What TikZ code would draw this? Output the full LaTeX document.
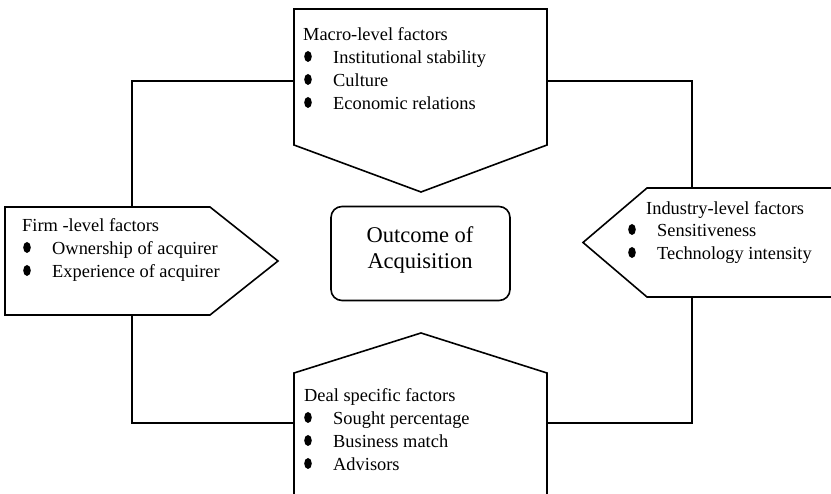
\documentclass[tikz,border=0pt]{standalone}
\usepackage{fontspec}
\setmainfont{Liberation Serif}

\tikzset{
    factorbox/.style={draw,line width=1.6pt,line join=miter,fill=white},
    link/.style={draw,line width=1.6pt},
    factortext/.style={anchor=base west,inner sep=0pt,font=\fontsize{18.4}{22}\selectfont},
    outcomebox/.style={draw,line width=1.6pt,rounded corners=11pt,minimum width=179pt,minimum height=94pt},
    outcometext/.style={align=center,inner sep=0pt,font=\fontsize{22.5}{26}\selectfont},
    dot/.style={fill=black}
}

\begin{document}
\begin{tikzpicture}[x=1pt,y=-1pt]
    \useasboundingbox (0,0) rectangle (831,494);

    % the four factor boxes
    \draw[factorbox] (294,9) -- (547,9) -- (547,145) -- (421,192) -- (294,145) -- cycle;
    \draw[factorbox] (5,207) -- (210,207) -- (278,261) -- (210,315) -- (5,315) -- cycle;
    \draw[factorbox] (583,242.5) -- (647,188) -- (840,188) -- (840,297) -- (647,297) -- cycle;
    \draw[factorbox] (421,333) -- (547,373) -- (547,500) -- (294,500) -- (294,373) -- cycle;

    \coordinate (macro west) at (294,81);
    \coordinate (macro east) at (547,81);
    \coordinate (firm north) at (132,207);
    \coordinate (firm south) at (132,315);
    \coordinate (industry north) at (692,188);
    \coordinate (industry south) at (692,297);
    \coordinate (deal west) at (294,423);
    \coordinate (deal east) at (547,423);

    \draw[link] (macro west) -| (firm north);
    \draw[link] (firm south) |- (deal west);
    \draw[link] (macro east) -| (industry north);
    \draw[link] (industry south) |- (deal east);

    % outcome in the middle
    \node[outcomebox] (outcome) at (420.5,253.5) {};
    \node[outcometext] (outcometitle) at (420,250) {Outcome of\\ Acquisition};

    % macro-level
    \node[factortext] (macro) at (303,41) {Macro-level factors};
    \node[factortext] (macro1) at (333,64) {Institutional stability};
    \node[factortext] (macro2) at (333,87) {Culture};
    \node[factortext] (macro3) at (333,110) {Economic relations};
    \fill[dot] (308,56.5) ellipse [x radius=3.8,y radius=5.5];
    \fill[dot] (308,79.5) ellipse [x radius=3.8,y radius=5.5];
    \fill[dot] (308,102.5) ellipse [x radius=3.8,y radius=5.5];

    % firm-level
    \node[factortext] (firm) at (22,232) {Firm -level factors};
    \node[factortext] (firm1) at (52,255) {Ownership of acquirer};
    \node[factortext] (firm2) at (52,278) {Experience of acquirer};
    \fill[dot] (27,247.5) ellipse [x radius=3.8,y radius=5.5];
    \fill[dot] (27,270.5) ellipse [x radius=3.8,y radius=5.5];

    % industry-level
    \node[factortext] (industry) at (646,215) {Industry-level factors};
    \node[factortext] (industry1) at (657,237) {Sensitiveness};
    \node[factortext] (industry2) at (657,260) {Technology intensity};
    \fill[dot] (632,229.5) ellipse [x radius=3.8,y radius=5.5];
    \fill[dot] (632,252.5) ellipse [x radius=3.8,y radius=5.5];

    % deal specific
    \node[factortext] (deal) at (304,402) {Deal specific factors};
    \node[factortext] (deal1) at (333,425) {Sought percentage};
    \node[factortext] (deal2) at (333,448) {Business match};
    \node[factortext] (deal3) at (333,471) {Advisors};
    \fill[dot] (308,417.5) ellipse [x radius=3.8,y radius=5.5];
    \fill[dot] (308,440.5) ellipse [x radius=3.8,y radius=5.5];
    \fill[dot] (308,463.5) ellipse [x radius=3.8,y radius=5.5];
\end{tikzpicture}
\end{document}
